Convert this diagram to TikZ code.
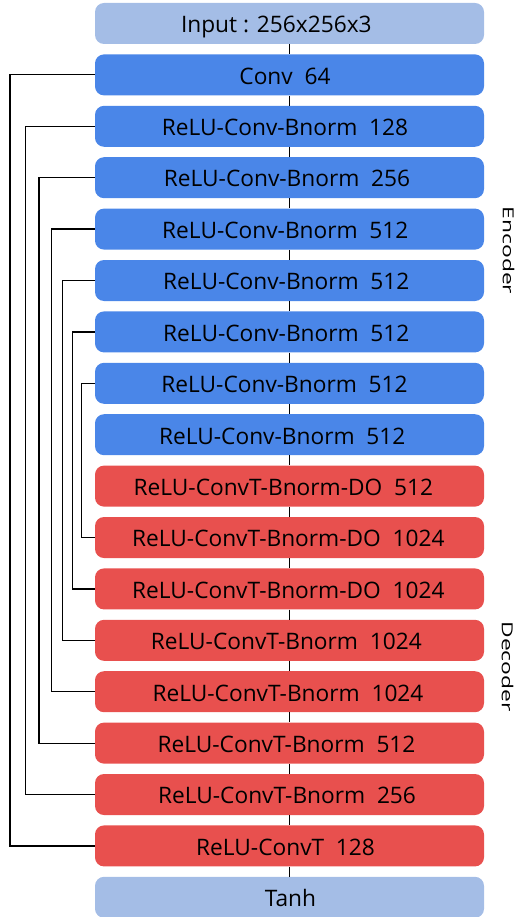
\documentclass[tikz,border=0pt]{standalone}
\usepackage{fontspec}
\setmainfont{Open Sans}
\usepackage{graphicx}
\definecolor{encblue}{HTML}{4A86E8}
\definecolor{decred}{HTML}{E8504E}
\definecolor{ioblue}{HTML}{A4BDE6}
\newcommand\txs[2]{\hspace*{#1pt}#2\hspace*{-#1pt}}
\begin{document}
\begin{tikzpicture}[x=1pt,y=-1pt,
  layer/.style={rounded corners=9pt, minimum width=389pt, minimum height=41pt,
    inner sep=0pt, text height=18.6pt, text depth=0pt,
    font=\fontsize{22.7}{27}\selectfont, text=black},
  enc/.style={layer, fill=encblue},
  dec/.style={layer, fill=decred},
  io/.style={layer, fill=ioblue},
  link/.style={draw=black, line width=1.2pt},
  side/.style={rotate=-90, font=\fontsize{15.2}{18}\selectfont, inner sep=0pt}]
\useasboundingbox (0,0) rectangle (522,917);
\def\cx{289.5}
\node[io]  (b0)  at (\cx,23.5)  {\txs{-13.2}{Input : 256x256x3}};
\node[enc] (b1)  at (\cx,74.9)  {\txs{-4.5}{Conv~~64}};
\node[enc] (b2)  at (\cx,126.3) {\txs{-4.5}{ReLU-Conv-Bnorm~~128}};
\node[enc] (b3)  at (\cx,177.7) {\txs{-2.5}{ReLU-Conv-Bnorm~~256}};
\node[enc] (b4)  at (\cx,229.1) {\txs{-4.2}{ReLU-Conv-Bnorm~~512}};
\node[enc] (b5)  at (\cx,280.5) {\txs{-3.2}{ReLU-Conv-Bnorm~~512}};
\node[enc] (b6)  at (\cx,331.9) {\txs{-3.2}{ReLU-Conv-Bnorm~~512}};
\node[enc] (b7)  at (\cx,383.3) {\txs{-5}{ReLU-Conv-Bnorm~~512}};
\node[enc] (b8)  at (\cx,434.7) {\txs{-7.3}{ReLU-Conv-Bnorm~~512}};
\node[dec] (b9)  at (\cx,486.1) {\txs{-6.2}{ReLU-ConvT-Bnorm-DO~~512}};
\node[dec] (b10) at (\cx,537.5) {\txs{-1.2}{ReLU-ConvT-Bnorm-DO~~1024}};
\node[dec] (b11) at (\cx,588.9) {\txs{-1.2}{ReLU-ConvT-Bnorm-DO~~1024}};
\node[dec] (b12) at (\cx,640.3) {\txs{-3.2}{ReLU-ConvT-Bnorm~~1024}};
\node[dec] (b13) at (\cx,691.7) {\txs{-1.5}{ReLU-ConvT-Bnorm~~1024}};
\node[dec] (b14) at (\cx,743.1) {\txs{-3}{ReLU-ConvT-Bnorm~~512}};
\node[dec] (b15) at (\cx,794.5) {\txs{-2.5}{ReLU-ConvT-Bnorm~~256}};
\node[dec] (b16) at (\cx,845.9) {\txs{-4}{ReLU-ConvT~~128}};
\node[io]  (b17) at (\cx,897.3) {\txs{1}{Tanh}};
% main chain
\foreach \a/\b in {b0/b1,b1/b2,b2/b3,b3/b4,b4/b5,b5/b6,b6/b7,b7/b8,b8/b9,b9/b10,b10/b11,b11/b12,b12/b13,b13/b14,b14/b15,b15/b16,b16/b17}
  \draw[link] (\a.south) -- (\b.north);
% skip connections
\coordinate (L1) at (10,0);
\coordinate (L2) at (25.5,0);
\coordinate (L3) at (39,0);
\coordinate (L4) at (51.7,0);
\coordinate (L5) at (62.7,0);
\coordinate (L6) at (72.7,0);
\coordinate (L7) at (81.7,0);
\foreach \e/\d/\l in {b1/b16/L1,b2/b15/L2,b3/b14/L3,b4/b13/L4,b5/b12/L5,b6/b11/L6,b7/b10/L7}
  \draw[link] (\e.west) -- (\e.west -| \l) |- (\d.west);
% side labels
\node[side] (enc) at (508.5,250.5) {\scalebox{1.5}[1]{Encoder}};
\node[side] (dec) at (507.5,666.5) {\scalebox{1.5}[1]{Decoder}};
\end{tikzpicture}
\end{document}
